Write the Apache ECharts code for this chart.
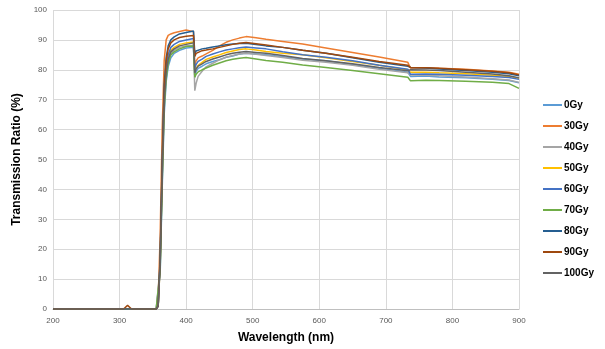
<!DOCTYPE html>
<html lang="en">
<head>
	<meta charset="UTF-8">
	<title>Transmission Ratio</title>
	<style>
	body, div {
		margin: 0;
		padding: 0;
	}
	#chart {
		width: 605px;
		height: 349px;
		background: #fff;
	}
	</style>
</head>
<body>
	<div id="chart"></div>

	<script src="https://cdn.jsdelivr.net/npm/echarts@6/dist/echarts.min.js"></script>
	<script>

	// wavelength (nm), shared by every series
	var wavelength = [200, 306, 309, 312, 315, 318, 355, 358, 361, 364, 367, 370, 373, 377, 382, 390, 400, 411,
		413, 415, 418, 424, 430, 440, 450, 460, 470, 480, 490, 505, 520, 545, 575, 610, 650, 690, 733, 737,
		760, 780, 820, 860, 885, 900];

	var names = ['0Gy', '30Gy', '40Gy', '50Gy', '60Gy', '70Gy', '80Gy', '90Gy', '100Gy'];
	var colors = ['#5B9BD5', '#ED7D31', '#A5A5A5', '#FFC000', '#4472C4', '#70AD47', '#255E91', '#9E480E', '#636363'];

	var gy0 = [0, 0, 0, 0, 0, 0, 0, 0.5, 12, 40, 65, 76, 81, 84, 85.5, 86.5, 87.3, 87.5,
		77.5, 79.5, 80.5, 81.2, 82, 82.8, 83.4, 84.2, 84.6, 85.3, 85.5, 85.3, 85, 84.4, 83.6, 83, 81.8, 80.5, 79.2, 77.8,
		77.9, 77.6, 77.3, 76.8, 76.4, 75.7];
	var gy30 = [0, 0, 0, 0, 0, 0, 0, 3, 25, 60, 83, 90, 91.5, 92, 92.4, 92.8, 93.3, 92.7,
		81.5, 83, 84, 84.6, 85.3, 86.5, 88, 89.2, 90, 90.6, 91.1, 90.7, 90.2, 89.5, 88.6, 87.3, 85.8, 84.3, 82.5, 80.6,
		80.7, 80.5, 80.2, 79.6, 79.2, 78.5];
	var gy40 = [0, 0, 0, 0, 0, 0, 0, 0.5, 14, 43, 68, 78, 83, 85.5, 86.5, 87.5, 88, 88.2,
		73, 75.5, 77.8, 79.5, 81, 82.2, 83.3, 84.2, 84.8, 85.3, 85.5, 85.2, 84.8, 84.1, 83.2, 82.5, 81.5, 80.2, 79, 78.3,
		78.2, 78, 77.6, 77, 76.6, 75.8];
	var gy50 = [0, 0, 0, 0, 0, 0, 0, 1, 15, 45, 70, 80, 84, 86.5, 87.5, 88.5, 89, 89.3,
		79.5, 80.5, 81.5, 82.5, 83.5, 84.3, 85, 85.8, 86.3, 86.8, 87, 86.6, 86.1, 85.5, 85, 84, 82.8, 81.5, 80, 79.2,
		79.2, 79, 78.7, 78.2, 77.8, 77.2];
	var gy60 = [0, 0, 0, 0, 0, 0, 0, 1, 16, 46, 71, 81, 85, 87.5, 88.5, 89.5, 90, 90.5,
		80.5, 81.8, 82.8, 83.6, 84.5, 85.3, 86, 86.6, 87, 87.4, 87.6, 87.3, 87, 86, 85, 84.2, 83, 81.5, 80.2, 78.5,
		78.6, 78.5, 78.2, 77.8, 77.4, 76.8];
	var gy70 = [0, 0, 0, 0, 0, 0, 0, 0.5, 13, 42, 67, 77, 82, 85, 86, 87, 87.8, 88,
		77.5, 78.5, 79.3, 80, 80.6, 81.5, 82.3, 83, 83.5, 83.9, 84.1, 83.6, 83.1, 82.5, 81.6, 80.8, 79.8, 78.7, 77.5, 76.3,
		76.5, 76.4, 76.2, 75.8, 75.4, 73.8];
	var gy80 = [0, 0, 0, 0, 0, 0, 0, 1, 18, 50, 75, 84, 88, 90, 91, 92, 92.5, 93,
		85.5, 86.3, 86.7, 87, 87.2, 87.6, 88, 88.4, 88.6, 88.8, 88.9, 88.5, 88, 87.5, 86.5, 85.5, 84, 82.5, 81.2, 80.8,
		80.6, 80.3, 79.8, 79.2, 78.7, 78];
	var gy90 = [0, 0, 0.6, 1.2, 0.7, 0, 0, 1, 17, 48, 73, 83, 87, 89, 90, 90.8, 91.2, 91.5,
		84.5, 85.5, 86, 86.4, 86.6, 87, 87.5, 88, 88.5, 88.9, 89.1, 88.7, 88.3, 87.5, 86.5, 85.5, 84.2, 82.8, 81.5, 80.8,
		80.7, 80.5, 80, 79.5, 79, 78.3];
	var gy100 = [0, 0, 0, 0, 0, 0, 0, 1, 15, 44, 69, 79, 83.5, 86, 87, 88, 88.5, 89,
		79, 80.3, 81.2, 82, 82.8, 83.6, 84.3, 85, 85.5, 85.9, 86.1, 85.8, 85.5, 84.8, 83.8, 83, 82, 80.8, 79.7, 80,
		79.9, 79.8, 79.2, 78.6, 78, 77.3];

	var values = [gy0, gy30, gy40, gy50, gy60, gy70, gy80, gy90, gy100];

	var font = 'Liberation Sans';

	var _series = [];
	for (var i = 0; i < values.length; i++) {
		var pts = [];
		for (var d = 0; d < wavelength.length; d++) {
			pts.push([wavelength[d], values[i][d]]);
		}
		_series.push({
			name: names[i],
			type: 'line',
			showSymbol: false,
			symbol: 'none',
			animation: false,
			lineStyle: {width: 1.5, color: colors[i]},
			itemStyle: {color: colors[i]},
			data: pts
		});
	}

	var option = {
		color: colors,
		animation: false,
		grid: {left: 53, right: 86, top: 10, bottom: 40},
		legend: {
			orient: 'vertical',
			left: 538,
			top: 94,
			icon: 'rect',
			itemWidth: 19,
			itemHeight: 2,
			itemGap: 9,
			textStyle: {fontFamily: font, fontSize: 10, fontWeight: 'bold', color: '#000', lineHeight: 12, padding: [0, 0, 0, -3]},
			data: names
		},
		xAxis: {
			type: 'value',
			min: 200,
			max: 900,
			interval: 100,
			name: 'Wavelength (nm)',
			nameLocation: 'middle',
			nameGap: 23,
			nameTextStyle: {fontFamily: font, fontSize: 12, fontWeight: 'bold', color: '#000'},
			axisLine: {lineStyle: {color: '#bfbfbf'}},
			axisTick: {show: false},
			axisLabel: {fontFamily: font, fontSize: 8, color: '#595959', margin: 8},
			splitLine: {lineStyle: {color: '#d9d9d9'}}
		},
		yAxis: {
			type: 'value',
			min: 0,
			max: 100,
			interval: 10,
			name: 'Transmission Ratio (%)',
			nameLocation: 'middle',
			nameGap: 25,
			nameTextStyle: {fontFamily: font, fontSize: 12, fontWeight: 'bold', color: '#000'},
			axisLine: {show: false},
			axisTick: {show: false},
			axisLabel: {fontFamily: font, fontSize: 8, color: '#595959', margin: 6},
			splitLine: {lineStyle: {color: '#d9d9d9'}}
		},
		series: _series
	};

	var myChart = echarts.init(document.getElementById('chart'));
	myChart.setOption(option);

	</script>
</body>
</html>
